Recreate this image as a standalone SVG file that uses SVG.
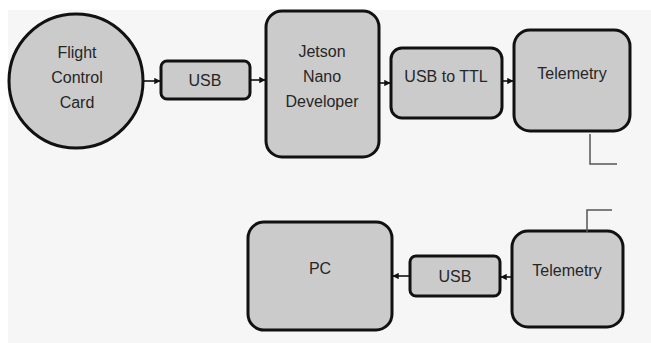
<svg xmlns="http://www.w3.org/2000/svg" width="651" height="343" viewBox="0 0 651 343">
<style>
.n{fill:#cbcbcb;stroke:#111;stroke-width:3}
.t{font-family:"Liberation Sans",Arial,sans-serif;font-size:16px;fill:#262626;text-anchor:middle}
.c{stroke:#111;stroke-width:1.6;fill:none}
.w{stroke:#555;stroke-width:1.5;fill:none}
</style>
<defs>
<marker id="ah" viewBox="0 0 10 10" refX="9" refY="5" markerWidth="4" markerHeight="4" orient="auto"><path d="M0,0L10,5L0,10z" fill="#111"/></marker>
</defs>
<rect x="0" y="0" width="651" height="343" fill="#fff"/>
<rect x="8" y="10" width="643" height="333" fill="#f6f6f6"/>
<g id="fcc"><circle class="n" cx="76" cy="81" r="67"/>
<text class="t" x="77" y="58">Flight</text><text class="t" x="77" y="83">Control</text><text class="t" x="77" y="108">Card</text></g>
<g id="usb1"><rect class="n" x="161" y="61" width="89" height="38" rx="6"/><text class="t" x="205" y="86">USB</text></g>
<g id="jetson"><rect class="n" x="266" y="11" width="113" height="146" rx="16"/>
<text class="t" x="322" y="57">Jetson</text><text class="t" x="322" y="82">Nano</text><text class="t" x="322" y="107">Developer</text></g>
<g id="ttl"><rect class="n" x="391" y="48" width="111" height="70" rx="11"/><text class="t" x="446" y="82">USB to TTL</text></g>
<g id="tel1"><rect class="n" x="514" y="30" width="116" height="101" rx="16"/><text class="t" x="572" y="79">Telemetry</text></g>
<g id="pc"><rect class="n" x="248" y="222" width="144" height="108" rx="16"/><text class="t" x="320" y="274">PC</text></g>
<g id="usb2"><rect class="n" x="410" y="256" width="90" height="40" rx="6"/><text class="t" x="455" y="282">USB</text></g>
<g id="tel2"><rect class="n" x="512" y="231" width="111" height="96" rx="16"/><text class="t" x="567" y="276">Telemetry</text></g>
<g id="connectors">
<line class="c" x1="144" y1="81" x2="160" y2="81" marker-end="url(#ah)"/>
<line class="c" x1="250" y1="80" x2="265" y2="80" marker-end="url(#ah)"/>
<line class="c" x1="379" y1="83" x2="390" y2="83" marker-end="url(#ah)"/>
<line class="c" x1="502" y1="81" x2="513" y2="81" marker-end="url(#ah)"/>
<line class="c" x1="512" y1="277" x2="501" y2="277" marker-end="url(#ah)"/>
<line class="c" x1="410" y1="276" x2="393" y2="276" marker-end="url(#ah)"/>
<polyline class="w" points="590,134 590,164 617,164"/>
<polyline class="w" points="587,232 587,210 612,210"/>
</g>
</svg>
